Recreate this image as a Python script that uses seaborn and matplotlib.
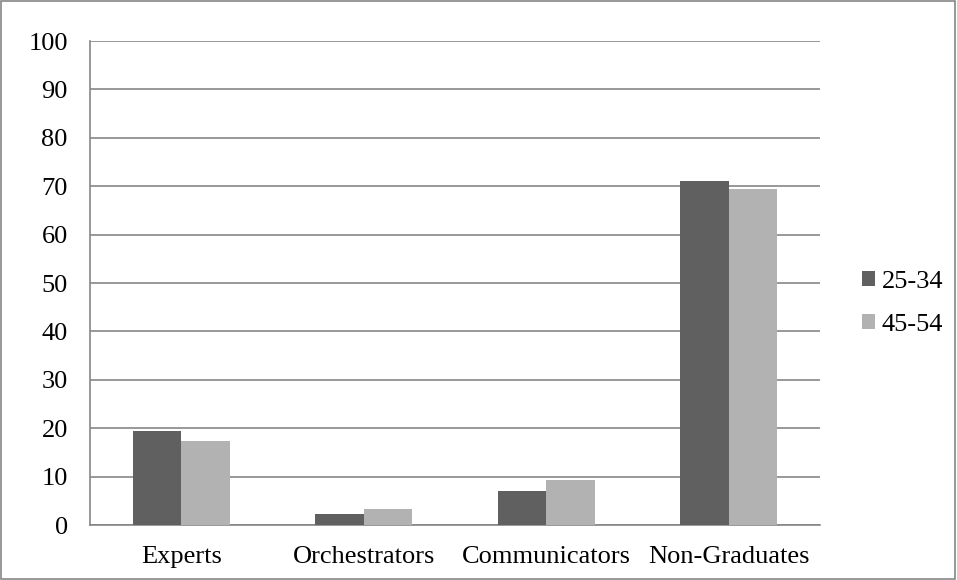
import pandas as pd
import matplotlib.pyplot as plt
import seaborn as sns
from matplotlib.ticker import FixedLocator

# --- data ---
CATEGORIES = ["Experts", "Orchestrators", "Communicators", "Non-Graduates"]
SERIES = ["25-34", "45-54"]
VALUES_25_34 = [19.4, 2.3, 7.0, 71.1]
VALUES_45_54 = [17.4, 3.4, 9.4, 69.4]
COLORS = ["#606060", "#b2b2b2"]
Y_TICKS = list(range(0, 101, 10))

df = pd.DataFrame({
    "category": CATEGORIES * 2,
    "group": [SERIES[0]] * len(CATEGORIES) + [SERIES[1]] * len(CATEGORIES),
    "value": VALUES_25_34 + VALUES_45_54,
})

sns.set_style("white")
plt.rcParams["font.family"] = ["Liberation Serif", "DejaVu Serif"]
plt.rcParams["text.color"] = "black"
FS = 19

fig = plt.figure(figsize=(9.57, 5.80), dpi=100)
ax = fig.add_axes([90 / 957, 55 / 580, 730 / 957, 484 / 580])

sns.barplot(data=df, x="category", y="value", hue="group", order=CATEGORIES,
            hue_order=SERIES, palette=COLORS, width=0.53, gap=0,
            saturation=1, linewidth=0, ax=ax, zorder=3)

grid_c = "#868686"
ax.set_ylim(0, 100)
ax.set_xlim(-0.5, len(CATEGORIES) - 0.5)
ax.set_yticks(Y_TICKS)
ax.yaxis.grid(True, color=grid_c, linewidth=1.2, zorder=0)
ax.set_axisbelow(True)
for s in ["top", "right"]:
    ax.spines[s].set_visible(False)
for s in ["left", "bottom"]:
    ax.spines[s].set_color(grid_c)
    ax.spines[s].set_linewidth(1.2)

ax.tick_params(axis="y", direction="out", length=6, color=grid_c, width=1.2,
               labelsize=FS, pad=10, labelcolor="black")
ax.tick_params(axis="x", which="major", length=0, labelsize=FS, pad=15,
               labelcolor="black")
ax.xaxis.set_minor_locator(FixedLocator([i - 0.5 for i in range(len(CATEGORIES) + 1)]))
ax.tick_params(axis="x", which="minor", direction="out", length=6, color=grid_c, width=1.2)
ax.set_xlabel("")
ax.set_ylabel("")

ax.legend(loc="center left", bbox_to_anchor=(1.057, 0.458), frameon=False,
          fontsize=FS, handlelength=0.5, handleheight=0.5, handletextpad=0.25,
          labelspacing=0.8, borderpad=0, borderaxespad=0, labelcolor="black")

# outer border like the reference
fig.patches.append(plt.Rectangle((0.001, 0.001), 0.997, 0.997, transform=fig.transFigure,
                                 fill=False, edgecolor=grid_c, linewidth=1.2))

fig.savefig("out.png", dpi=100)
